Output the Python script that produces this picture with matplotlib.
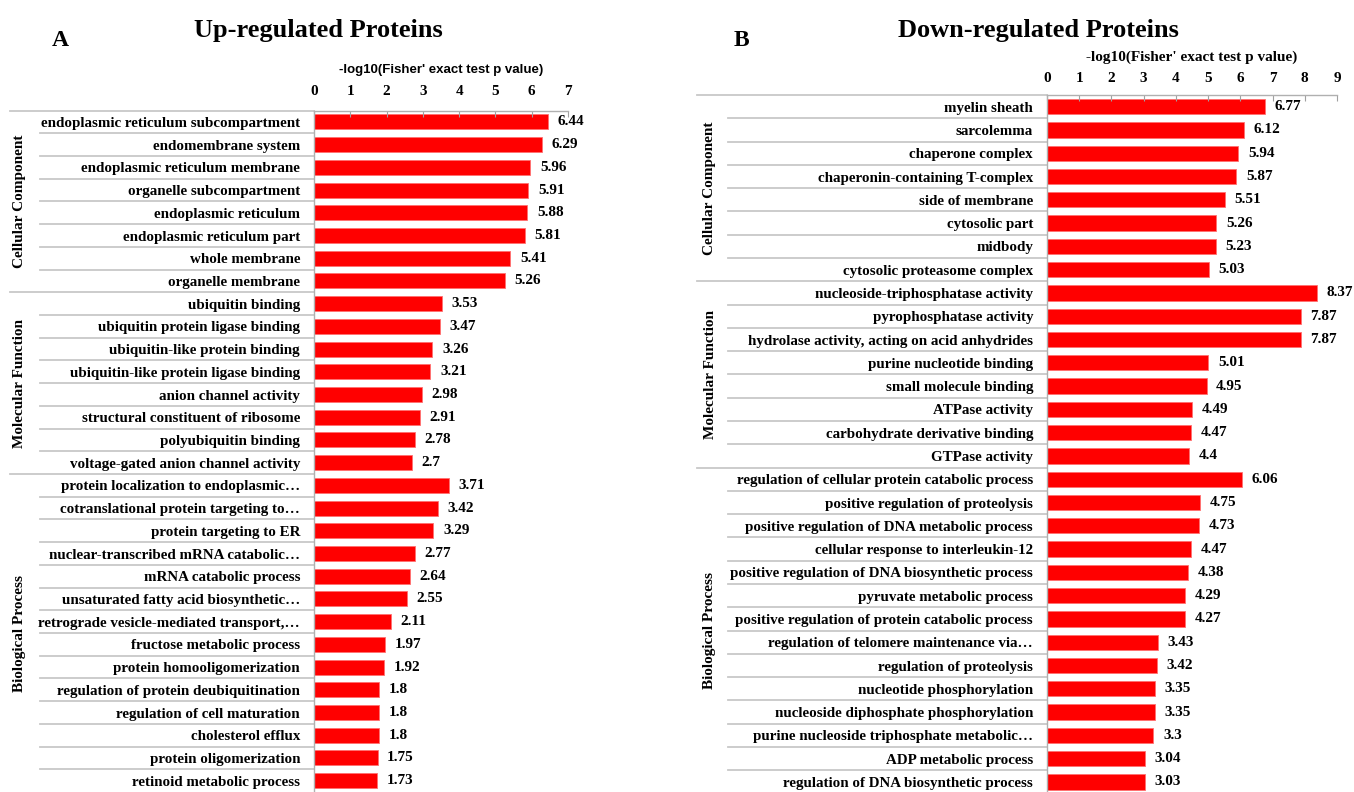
import matplotlib.pyplot as plt
from matplotlib.transforms import blended_transform_factory

plt.rcParams['font.family'] = 'Liberation Serif'
plt.rcParams['font.weight'] = 'bold'

group_names = ["Cellular Component", "Molecular Function", "Biological Process"]

# --- Up-regulated ---
up_sizes = [8, 8, 14]
up_terms = [
    "endoplasmic reticulum subcompartment", "endomembrane system",
    "endoplasmic reticulum membrane", "organelle subcompartment",
    "endoplasmic reticulum", "endoplasmic reticulum part",
    "whole membrane", "organelle membrane",
    "ubiquitin binding", "ubiquitin protein ligase binding",
    "ubiquitin-like protein binding", "ubiquitin-like protein ligase binding",
    "anion channel activity", "structural constituent of ribosome",
    "polyubiquitin binding", "voltage-gated anion channel activity",
    "protein localization to endoplasmic…", "cotranslational protein targeting to…",
    "protein targeting to ER", "nuclear-transcribed mRNA catabolic…",
    "mRNA catabolic process", "unsaturated fatty acid biosynthetic…",
    "retrograde vesicle-mediated transport,…", "fructose metabolic process",
    "protein homooligomerization", "regulation of protein deubiquitination",
    "regulation of cell maturation", "cholesterol efflux",
    "protein oligomerization", "retinoid metabolic process",
]
up_values = [6.44, 6.29, 5.96, 5.91, 5.88, 5.81, 5.41, 5.26,
             3.53, 3.47, 3.26, 3.21, 2.98, 2.91, 2.78, 2.7,
             3.71, 3.42, 3.29, 2.77, 2.64, 2.55, 2.11, 1.97, 1.92, 1.8, 1.8, 1.8, 1.75, 1.73]

# --- Down-regulated ---
down_sizes = [8, 8, 14]
down_terms = [
    "myelin sheath", "sarcolemma", "chaperone complex",
    "chaperonin-containing T-complex", "side of membrane", "cytosolic part",
    "midbody", "cytosolic proteasome complex",
    "nucleoside-triphosphatase activity", "pyrophosphatase activity",
    "hydrolase activity, acting on acid anhydrides", "purine nucleotide binding",
    "small molecule binding", "ATPase activity",
    "carbohydrate derivative binding", "GTPase activity",
    "regulation of cellular protein catabolic process",
    "positive regulation of proteolysis",
    "positive regulation of DNA metabolic process",
    "cellular response to interleukin-12",
    "positive regulation of DNA biosynthetic process",
    "pyruvate metabolic process",
    "positive regulation of protein catabolic process",
    "regulation of telomere maintenance via…", "regulation of proteolysis",
    "nucleotide phosphorylation", "nucleoside diphosphate phosphorylation",
    "purine nucleoside triphosphate metabolic…", "ADP metabolic process",
    "regulation of DNA biosynthetic process",
]
down_values = [6.77, 6.12, 5.94, 5.87, 5.51, 5.26, 5.23, 5.03,
               8.37, 7.87, 7.87, 5.01, 4.95, 4.49, 4.47, 4.4,
               6.06, 4.75, 4.73, 4.47, 4.38, 4.29, 4.27, 3.43, 3.42, 3.35, 3.35, 3.3, 3.04, 3.03]

W, H = 1354, 792
GRID = '#c8c8c8'


def draw_panel(fig, rect, terms, values, sizes, xmax, inner_x, outer_x, group_x, tick_pad, xlabel_kw):
    ax = fig.add_axes(rect)
    n = len(terms)
    pos = list(range(n))
    ax.barh(pos, values, height=0.66, color='#ff0000', edgecolor='#ff7070', linewidth=0.6)
    ax.set_ylim(n - 0.5, -0.5)
    ax.set_xlim(0, xmax)
    ax.set_yticks(pos)
    ax.set_yticklabels(terms, fontsize=10.8)
    ax.tick_params(axis='y', length=0, pad=10)
    ax.xaxis.tick_top()
    ax.set_xticks(range(0, xmax + 1))
    ax.tick_params(axis='x', direction='in', length=4, color='#a0a0a0', labelsize=11, pad=tick_pad)
    for s in ['right', 'bottom']:
        ax.spines[s].set_visible(False)
    for s in ['top', 'left']:
        ax.spines[s].set_color('#b0b0b0')
        ax.spines[s].set_linewidth(1.0)

    for y, v in zip(pos, values):
        ax.annotate(f"{v:g}", (v, y), xytext=(7, 0), textcoords='offset points',
                    va='center', ha='left', fontsize=11)

    # row separators in the label area; group boundaries reach further left
    tr = blended_transform_factory(fig.transFigure, ax.transData)
    x0 = rect[0]
    starts = set()
    acc = 0
    for s in sizes:
        starts.add(acc)
        acc += s
    for i in range(n):
        left = outer_x if i in starts else inner_x
        ax.plot([left, x0], [i - 0.5, i - 0.5], color=GRID, lw=1.3,
                transform=tr, clip_on=False)

    acc = 0
    for name, s in zip(group_names, sizes):
        yc = acc + (s - 1) / 2
        ax.text(group_x, yc, name, rotation=90, ha='center', va='center',
                fontsize=11, transform=tr)
        acc += s

    fig.text(**xlabel_kw)
    return ax


fig = plt.figure(figsize=(W / 100, H / 100), dpi=100)

top_a = 1 - 110.6 / H
ax_a = draw_panel(fig, [314 / W, 0, 254 / W, top_a], up_terms, up_values, up_sizes, 7,
                  40 / W, 10 / W, 20 / W, 9,
                  dict(x=441 / W, y=1 - 70 / H, s="-log10(Fisher' exact test p value)",
                       ha='center', va='center', fontsize=9.5, family='Liberation Sans'))

top_b = 1 - 95.0 / H
ax_b = draw_panel(fig, [1047 / W, -1.6 / H, 290 / W, top_b + 1.6 / H], down_terms, down_values,
                  down_sizes, 9, 728 / W, 697 / W, 710 / W, 7,
                  dict(x=1192 / W, y=1 - 57 / H, s="-log10(Fisher' exact test p value)",
                       ha='center', va='center', fontsize=11))

fig.text(318 / W, 1 - 31 / H, "Up-regulated Proteins", ha='center', va='center', fontsize=19)
fig.text(60 / W, 1 - 41 / H, "A", ha='center', va='center', fontsize=17)
fig.text(1038 / W, 1 - 31 / H, "Down-regulated Proteins", ha='center', va='center', fontsize=19)
fig.text(741 / W, 1 - 41 / H, "B", ha='center', va='center', fontsize=17)

fig.savefig("out.png", dpi=100, facecolor='white')
